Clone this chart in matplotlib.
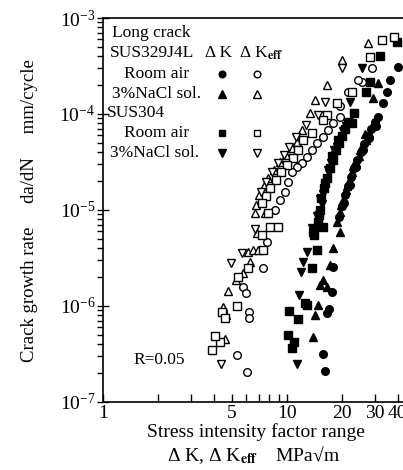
import matplotlib.pyplot as plt
from matplotlib.ticker import FixedLocator, FixedFormatter, NullFormatter, LogLocator

plt.rcParams['font.family'] = ['Liberation Serif', 'DejaVu Serif']
plt.rcParams['mathtext.fontset'] = 'stix'

# SUS329J4L, room air, dK (filled circles)
k_329_air = [16.1, 15.7, 16.5, 16.9, 17.6, 17.8, 19.1, 19.9, 20.4, 20.7, 21.5, 22.0, 22.3, 23.1,
             23.7, 24.0, 25.3, 25.9, 26.2, 27.6, 27.9, 28.6, 30.1, 30.5, 31.2, 33.2, 34.9, 36.3, 40.1]
da_329_air = [2.1e-7, 3.15e-7, 8.45e-7, 9.3e-7, 1.40e-6, 2.55e-6, 8.45e-6, 1.10e-5, 1.18e-5, 1.43e-5,
              1.78e-5, 1.82e-5, 2.21e-5, 2.74e-5, 2.81e-5, 3.32e-5, 4.02e-5, 4.22e-5, 4.87e-5, 5.9e-5,
              5.62e-5, 6.98e-5, 8.25e-5, 7.5e-5, 9.31e-5, 1.30e-4, 1.70e-4, 2.26e-4, 3.09e-4]

# SUS329J4L, room air, dKeff (open circles)
keff_329_air = [29.0, 25.6, 24.3, 21.5, 19.4, 19.4, 17.8, 16.7, 15.7, 14.6, 13.7, 12.8, 12.1, 11.3,
                10.6, 10.1, 9.75, 9.16, 8.61, 7.78, 7.40, 5.76, 5.99, 6.22, 6.22, 5.35, 6.06]
daeff_329_air = [3.01e-4, 2.15e-4, 2.26e-4, 1.70e-4, 1.21e-4, 9.31e-5, 8.06e-5, 6.81e-5, 5.76e-5,
                 4.99e-5, 4.22e-5, 3.56e-5, 3.09e-5, 2.81e-5, 2.49e-5, 1.96e-5, 1.54e-5, 1.27e-5,
                 1.0e-5, 4.64e-6, 2.49e-6, 1.58e-6, 1.37e-6, 8.66e-7, 7.50e-7, 3.09e-7, 2.05e-7]

# SUS329J4L, 3%NaCl, dK (filled up triangles)
k_329_nacl = [13.8, 14.2, 14.7, 15.1, 16.5, 15.7, 17.1, 17.8, 19.4, 18.7, 19.4, 19.7, 20.2, 20.9,
              21.2, 21.7, 22.6, 22.8, 23.7, 24.6, 24.9, 25.6, 26.5, 26.9, 27.9, 29.0, 29.3, 31.2]
da_329_nacl = [4.75e-7, 8.06e-7, 1.02e-6, 1.66e-6, 1.58e-6, 1.87e-6, 2.68e-6, 4.02e-6, 5.9e-6, 7.5e-6,
               9.53e-6, 1.13e-5, 1.27e-5, 1.62e-5, 1.78e-5, 2.0e-5, 2.49e-5, 2.87e-5, 3.01e-5,
               3.65e-5, 4.22e-5, 4.42e-5, 6.19e-5, 5.36e-5, 6.34e-5, 7.5e-5, 1.47e-4, 2.10e-4]

# SUS329J4L, 3%NaCl, dKeff (open up triangles)
keff_329_nacl = [27.6, 19.9, 16.5, 14.2, 13.3, 12.1, 11.3, 10.6, 9.88, 9.16, 8.50, 7.88, 7.50, 7.04,
                 6.79, 6.70, 7.59, 6.88, 6.14, 6.53, 6.96, 5.76, 6.29, 5.28, 4.78, 4.49, 4.66, 4.60]
daeff_329_nacl = [5.49e-4, 3.65e-4, 2.0e-4, 1.40e-4, 1.02e-4, 6.81e-5, 5.11e-5, 4.42e-5, 3.74e-5,
                  3.16e-5, 2.61e-5, 2.15e-5, 1.78e-5, 1.43e-5, 1.13e-5, 9.31e-6, 9.31e-6, 5.76e-6,
                  3.65e-6, 3.83e-6, 3.83e-6, 2.21e-6, 2.87e-6, 1.87e-6, 1.43e-6, 9.77e-7, 8.06e-7, 4.53e-7]

# SUS304, room air, dK (filled squares)
k_304_air = [10.1, 10.9, 10.6, 10.2, 11.5, 12.5, 12.8, 13.7, 14.6, 13.8, 15.7, 14.0, 14.7, 14.9,
             15.1, 15.3, 15.9, 16.1, 16.5, 17.1, 17.6, 17.8, 18.5, 18.9, 19.2, 19.9, 20.7, 21.5,
             22.6, 23.2, 26.9, 28.3, 32.0, 39.6]
da_304_air = [4.99e-7, 4.22e-7, 3.65e-7, 8.87e-7, 7.32e-7, 1.07e-6, 1.02e-6, 2.49e-6, 3.83e-6,
              5.9e-6, 6.65e-6, 5.49e-6, 7.5e-6, 8.87e-6, 1.0e-5, 1.33e-5, 1.69e-5, 1.91e-5,
              2.15e-5, 2.74e-5, 3.65e-5, 3.32e-5, 4.22e-5, 5.36e-5, 4.99e-5, 5.9e-5, 6.98e-5,
              8.25e-5, 8.06e-5, 1.03e-4, 1.70e-4, 2.15e-4, 4.02e-4, 5.62e-4]

# SUS304, room air, dKeff (open squares)
keff_304_air = [38.2, 32.8, 28.3, 22.6, 18.7, 16.5, 15.7, 13.7, 12.2, 11.5, 10.8, 10.0, 9.28, 8.72,
                8.08, 7.68, 7.31, 7.88, 8.08, 8.94, 7.31, 7.40, 6.14, 5.42, 5.35, 4.43, 4.60, 4.32,
                4.06, 3.91]
daeff_304_air = [6.34e-4, 5.9e-4, 3.92e-4, 1.70e-4, 1.30e-4, 9.77e-5, 8.66e-5, 6.34e-5, 5.36e-5,
                 4.22e-5, 3.48e-5, 2.94e-5, 2.49e-5, 2.05e-5, 1.69e-5, 1.40e-5, 1.18e-5, 9.31e-6,
                 6.65e-6, 6.65e-6, 5.49e-6, 3.83e-6, 2.49e-6, 2.0e-6, 1.0e-6, 8.66e-7, 7.50e-7,
                 4.22e-7, 4.87e-7, 3.48e-7]

# SUS304, 3%NaCl, dK (filled down triangles)
k_304_nacl = [11.3, 11.6, 11.9, 12.2, 12.8, 13.7, 14.4, 14.6, 15.1, 15.5, 15.7, 16.3, 16.7, 16.9,
              17.3, 18.0, 18.2, 18.7, 19.7, 20.2, 20.4, 20.9, 22.0, 25.6]
da_304_nacl = [2.5e-7, 1.30e-6, 2.26e-6, 2.87e-6, 3.65e-6, 6.49e-6, 6.19e-6, 8.66e-6, 1.30e-5,
               1.15e-5, 1.47e-5, 1.91e-5, 2.61e-5, 2.43e-5, 3.09e-5, 4.22e-5, 3.74e-5, 4.53e-5,
               5.36e-5, 6.65e-5, 6.49e-5, 7.5e-5, 1.33e-4, 3.01e-4]

# SUS304, 3%NaCl, dKeff (open down triangles)
keff_304_nacl = [19.9, 16.1, 14.7, 12.7, 11.2, 10.2, 9.63, 8.94, 8.29, 7.68, 7.22, 6.70, 5.69, 4.96, 4.38]
daeff_304_nacl = [3.01e-4, 1.33e-4, 9.77e-5, 7.68e-5, 5.76e-5, 4.53e-5, 3.74e-5, 3.09e-5, 2.49e-5,
                  1.96e-5, 1.54e-5, 6.34e-6, 3.56e-6, 2.81e-6, 2.5e-7]

x_labels = ['1', '5', '10', '20', '30', '40']
x_label_pos = [1, 5, 10, 20, 30, 40]

series = [
    (k_304_air, da_304_air, 's', True),
    (k_304_nacl, da_304_nacl, 'v', True),
    (k_329_air, da_329_air, 'o', True),
    (k_329_nacl, da_329_nacl, '^', True),
    (keff_329_air, daeff_329_air, 'o', False),
    (keff_329_nacl, daeff_329_nacl, '^', False),
    (keff_304_air, daeff_304_air, 's', False),
    (keff_304_nacl, daeff_304_nacl, 'v', False),
]

fig = plt.figure(figsize=(4.03, 4.70), dpi=100)
ax = fig.add_axes([0.2556, 0.1447, 0.7444, 0.8170])
ax.set_xscale('log')
ax.set_yscale('log')

for x, y, m, filled in series:
    ms = 6.3 if m in '^v' else 5.5
    ax.plot(x, y, linestyle='none', marker=m, ms=ms,
            mfc='black' if filled else 'white', mec='black', mew=1.0)

ax.set_xlim(1, 42.7)
ax.set_ylim(1e-7, 1e-3)

ax.spines['right'].set_visible(False)
for s in ['left', 'bottom', 'top']:
    ax.spines[s].set_linewidth(1.2)

ax.xaxis.set_major_locator(FixedLocator(x_label_pos))
ax.xaxis.set_major_formatter(FixedFormatter(x_labels))
ax.xaxis.set_minor_locator(FixedLocator([2, 3, 4, 6, 7, 8, 9]))
ax.xaxis.set_minor_formatter(NullFormatter())
ax.tick_params(axis='x', which='both', direction='in', length=6, width=1, labelsize=14, pad=2)
ax.tick_params(axis='x', which='both', top=False)

ax.yaxis.set_major_locator(LogLocator(base=10, numticks=10))
ax.yaxis.set_minor_locator(LogLocator(base=10, subs=range(2, 10), numticks=20))
ax.yaxis.set_minor_formatter(NullFormatter())
ax.tick_params(axis='y', which='major', direction='inout', length=9, width=1, labelsize=14, pad=1)
ax.tick_params(axis='y', which='minor', direction='out', length=4, width=1)

# legend block
fs = 12.5
ax.text(0.030, 0.961, 'Long crack', transform=ax.transAxes, fontsize=fs, va='center')
ax.text(0.023, 0.909, 'SUS329J4L', transform=ax.transAxes, fontsize=fs, va='center')
ax.text(0.340, 0.909, 'Δ K', transform=ax.transAxes, fontsize=fs, va='center')
ax.text(0.453, 0.909, r'Δ K$_{\mathbf{eff}}$', transform=ax.transAxes, fontsize=fs, va='center')
ax.text(0.012, 0.752, 'SUS304', transform=ax.transAxes, fontsize=fs, va='center')

rows = [
    ('Room air', 0.070, 0.854, 'o'),
    ('3%NaCl sol.', 0.030, 0.801, '^'),
    ('Room air', 0.070, 0.700, 's'),
    ('3%NaCl sol.', 0.023, 0.648, 'v'),
]
for label, tx, ty, m in rows:
    ax.text(tx, ty, label, transform=ax.transAxes, fontsize=fs, va='center')
    ms = 5.5 if m in '^v' else 4.8
    ax.plot([0.397], [ty], transform=ax.transAxes, marker=m, ms=ms, mfc='black', mec='black',
            linestyle='none', clip_on=False)
    ax.plot([0.513], [ty], transform=ax.transAxes, marker=m, ms=ms, mfc='white', mec='black',
            mew=1.0, linestyle='none', clip_on=False)

ax.text(0.100, 0.109, 'R=0.05', transform=ax.transAxes, fontsize=12.5, va='center')

fig.text(0.074, 0.553, 'Crack growth rate     da/dN     mm/cycle', rotation=90,
         ha='center', va='center', fontsize=13.5)
fig.text(0.635, 0.081, 'Stress intensity factor range', ha='center', va='center', fontsize=14)
fig.text(0.630, 0.032, r'Δ K, Δ K$_{\mathbf{eff}}$    MPa√m', ha='center',
         va='center', fontsize=14)

fig.savefig('out.png', dpi=100)
